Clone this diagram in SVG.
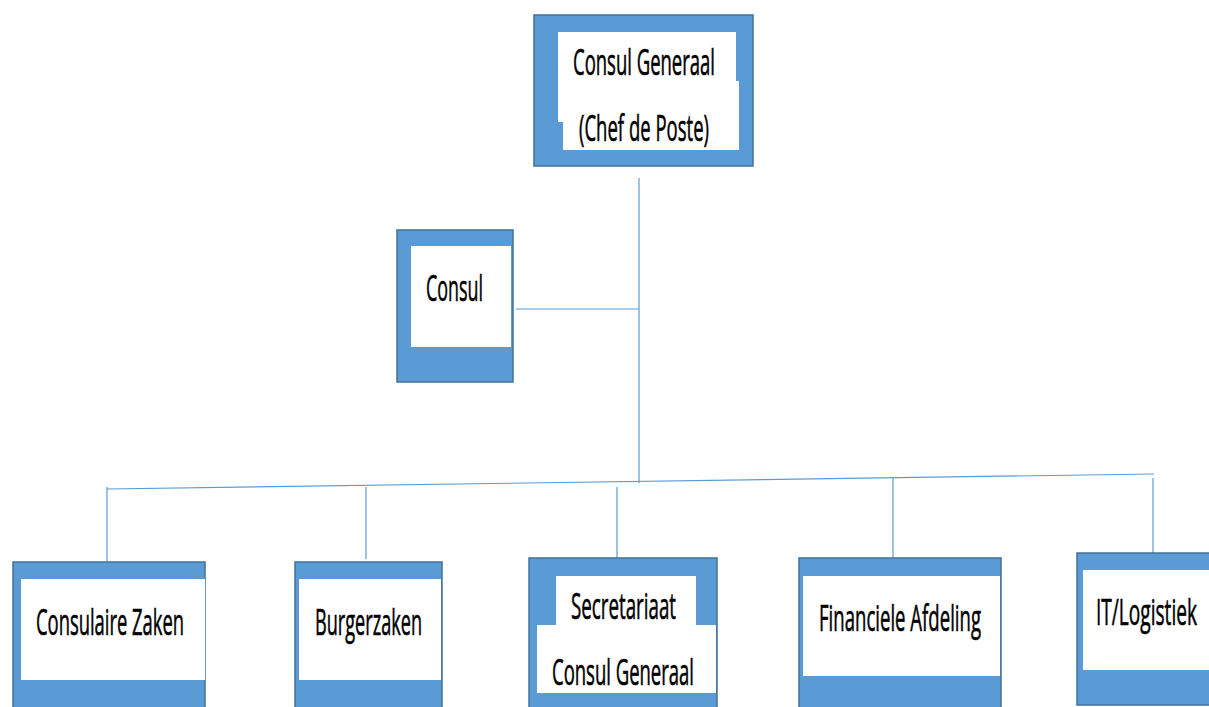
<svg xmlns="http://www.w3.org/2000/svg" width="1209" height="707" viewBox="0 0 1209 707">
<style>
.box{fill:#5B9BD5;stroke:#41719C;stroke-width:1.5}
.inner{fill:#FFFFFF}
.lbl{font-family:"Open Sans","Liberation Sans",sans-serif;font-size:37px;fill:#000000;stroke:#000000;stroke-width:0.6}
.conn{stroke:#5B9BD5;stroke-width:1.2;fill:none}
</style>
<rect width="1209" height="707" fill="#FFFFFF"/>
<g id="connectors">
<line class="conn" x1="639" y1="178" x2="639" y2="483"/>
<line class="conn" x1="516" y1="309" x2="639" y2="309"/>
<line class="conn" x1="107" y1="489" x2="1154" y2="474"/>
<line class="conn" x1="107" y1="487" x2="107" y2="562"/>
<line class="conn" x1="366" y1="487" x2="366" y2="559"/>
<line class="conn" x1="617" y1="487" x2="617" y2="558"/>
<line class="conn" x1="893" y1="478" x2="893" y2="558"/>
<line class="conn" x1="1153" y1="478" x2="1153" y2="553"/>
</g>
<g id="consul-generaal">
<rect class="box" x="534" y="15" width="219" height="151"/>
<rect class="inner" x="558" y="32" width="178" height="90"/>
<rect class="inner" x="563" y="81" width="176" height="69"/>
<text class="lbl" x="573" y="75" textLength="142" lengthAdjust="spacingAndGlyphs">Consul Generaal</text>
<text class="lbl" x="579" y="141" textLength="130" lengthAdjust="spacingAndGlyphs">(Chef de Poste)</text>
</g>
<g id="consul">
<rect class="box" x="397" y="230" width="116" height="152"/>
<rect class="inner" x="411" y="246" width="100" height="101"/>
<text class="lbl" x="426" y="301" textLength="57" lengthAdjust="spacingAndGlyphs">Consul</text>
</g>
<g id="consulaire-zaken">
<rect class="box" x="13" y="562" width="192" height="150"/>
<rect class="inner" x="21" y="579" width="184" height="101"/>
<text class="lbl" x="36" y="635" textLength="148" lengthAdjust="spacingAndGlyphs">Consulaire Zaken</text>
</g>
<g id="burgerzaken">
<rect class="box" x="295" y="562" width="147" height="150"/>
<rect class="inner" x="299" y="579" width="142" height="101"/>
<text class="lbl" x="315" y="635" textLength="107" lengthAdjust="spacingAndGlyphs">Burgerzaken</text>
</g>
<g id="secretariaat">
<rect class="box" x="529" y="558" width="188" height="152"/>
<rect class="inner" x="556" y="576" width="140" height="60"/>
<rect class="inner" x="537" y="625" width="179" height="68"/>
<text class="lbl" x="571" y="619" textLength="105" lengthAdjust="spacingAndGlyphs">Secretariaat</text>
<text class="lbl" x="552" y="685" textLength="142" lengthAdjust="spacingAndGlyphs">Consul Generaal</text>
</g>
<g id="financiele-afdeling">
<rect class="box" x="799" y="558" width="202" height="152"/>
<rect class="inner" x="803" y="576" width="197" height="100"/>
<text class="lbl" x="819" y="631" textLength="162" lengthAdjust="spacingAndGlyphs">Financiele Afdeling</text>
</g>
<g id="it-logistiek">
<rect class="box" x="1077" y="553" width="140" height="152"/>
<rect class="inner" x="1083" y="570" width="130" height="100"/>
<text class="lbl" x="1096" y="625" textLength="101" lengthAdjust="spacingAndGlyphs">IT/Logistiek</text>
</g>
</svg>
